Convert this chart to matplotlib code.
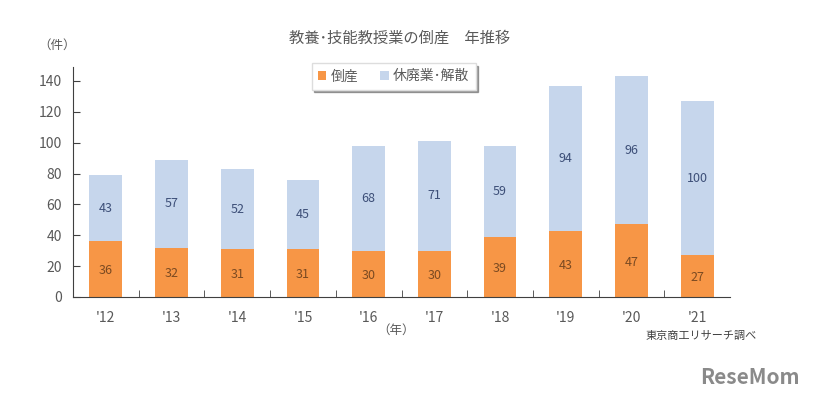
import matplotlib.pyplot as plt
import numpy as np

plt.rcParams['font.family'] = ['Noto Sans CJK JP', 'DejaVu Sans']

years = ["'12", "'13", "'14", "'15", "'16", "'17", "'18", "'19", "'20", "'21"]
bankrupt = [36, 32, 31, 31, 30, 30, 39, 43, 47, 27]
closed = [43, 57, 52, 45, 68, 71, 59, 94, 96, 100]

orange = '#F79646'
blue = '#C6D6EC'
gray = '#595959'

fig = plt.figure(figsize=(8.27, 4.0), dpi=100)
ax = fig.add_axes([73 / 827, 1 - 297 / 400, 657 / 827, 230 / 400])

x = np.arange(len(years))
ax.bar(x, bankrupt, width=0.5, color=orange, label='倒産')
ax.bar(x, closed, width=0.5, bottom=bankrupt, color=blue, label='休廃業･解散')

for i in range(len(years)):
    ax.text(x[i], bankrupt[i] / 2 - 1, str(bankrupt[i]), ha='center', va='center',
            fontsize=9, color='#7a4a22')
    ax.text(x[i], bankrupt[i] + closed[i] / 2, str(closed[i]), ha='center', va='center',
            fontsize=9, color='#3d4f78')

ax.set_xlim(-0.5, len(years) - 0.5)
ax.set_ylim(0, 149)
ax.set_yticks(range(0, 141, 20))
ax.set_xticks(x)
ax.set_xticklabels(years)
ax.set_xticks(np.arange(0.5, len(years) - 0.5, 1), minor=True)
ax.tick_params(axis='x', which='major', length=0, pad=10, labelsize=10, labelcolor=gray)
ax.tick_params(axis='x', which='minor', length=5, direction='in', color='#404040')
ax.tick_params(axis='y', length=5, direction='in', labelsize=10, labelcolor=gray, pad=8, color='#404040')
for s in ['top', 'right']:
    ax.spines[s].set_visible(False)
ax.spines['left'].set_color('#404040')
ax.spines['bottom'].set_color('#404040')

leg = ax.legend(loc='upper center', bbox_to_anchor=(0.488, 1.035), ncol=2, frameon=True,
                shadow=True, fontsize=10, handlelength=0.6, handleheight=0.6,
                handletextpad=0.3, columnspacing=1.6, borderpad=0.45, borderaxespad=0.3,
                fancybox=False)
leg.get_frame().set_edgecolor('#dddddd')
for t in leg.get_texts():
    t.set_color(gray)

fig.text(400 / 827, 1 - 38 / 400, '教養･技能教授業の倒産　年推移', ha='center', va='center',
         fontsize=11, color=gray)
fig.text(57 / 827, 1 - 45 / 400, '（件）', ha='center', va='center', fontsize=9, color=gray)
fig.text(396 / 827, 1 - 330 / 400, '（年）', ha='center', va='center', fontsize=9, color=gray)
fig.text(757 / 827, 1 - 336 / 400, '東京商工リサーチ調べ', ha='right', va='center',
         fontsize=8, color='#404040')
fig.text(800 / 827, 1 - 377 / 400, 'ReseMom', ha='right', va='center', fontsize=15,
         fontweight='bold', color='#8a8a8a')

plt.savefig('out.png', dpi=100)
